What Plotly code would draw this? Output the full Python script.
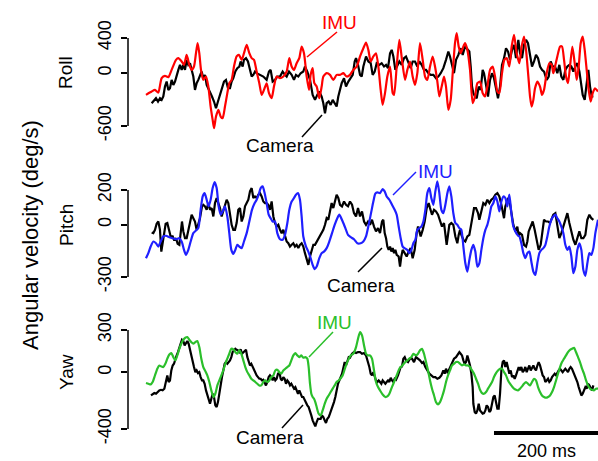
import plotly.graph_objects as go

# ---------------- data (time in ms, angular velocity in deg/s) ----------------
roll_imu_t = [0.0,10.9,17.3,23.7,30.1,36.5,43.0,49.3,57.7,62.2,68.6,73.1,78.2,83.3,87.8,92.3,96.1,99.3,102.5,105.8,
 110.2,115.4,119.9,124.3,128.2,130.8,134.6,139.1,143.6,147.4,151.9,156.4,160.2,164.7,169.2,174.3,178.8,184.0,188.4,193.6,
 198.7,203.2,207.7,212.8,217.9,222.4,226.9,232.0,236.5,241.6,246.1,251.3,257.7,264.1,270.5,275.6,280.1,284.6,289.7,294.8,
 299.3,303.8,309.0,313.4,316.6,320.5,323.7,328.2,333.3,337.8,341.0,347.4,353.8,360.2,366.6,373.1,
 379.5,385.9,392.3,398.7,405.2,411.6,418.0,423.1,427.6,432.1,437.2,442.3,446.8,451.3,455.1,459.6,464.1,469.3,474.4,477.0,
 482.1,487.2,492.3,498.1,502.6,507.7,512.8,517.3,521.8,526.9,532.1,536.6,541.0,546.2,551.3,555.8,560.3,564.1,568.6,573.1,
 576.9,581.4,585.9,589.8,594.2,597.4,601.3,605.1,609.0,613.5,618.0,623.1,628.2,632.7,637.2,642.3,647.4,651.9,656.4,661.6,
 666.7,671.2,675.7,679.5,684.6,689.1,693.6,698.7,703.2,707.7,712.8,718.0,722.4,726.9,730.8,735.3,738.5,741.7,744.9,748.1,
 752.6,757.7,761.5,765.4,770.5,775.6,780.1,783.3,786.6,791.0,796.2,800.0,803.9,807.7,811.5,815.4,819.9,824.4,828.2,832.1,
 835.9,839.8,843.6,847.4,851.3,855.1,859.0,863.5,869.2]
roll_imu_v = [-246,-208,-190,-220,-57,-30,-45,38,152,171,133,95,208,95,38,76,227,341,227,38,
 -76,-38,-152,-379,-531,-625,-493,-417,-493,-512,-379,-227,-114,-76,76,190,208,152,227,322,
 227,171,152,19,-114,-246,-190,-114,-227,-284,-152,-38,-57,-38,19,171,76,38,114,171,
 303,227,-38,-190,-19,57,-114,-152,-284,-152,-38,0,-19,-76,-19,-19,
 0,-38,-19,38,76,190,284,349,265,133,190,227,76,-190,-360,-227,-38,76,-227,-246,
 76,379,152,-76,38,133,-38,-133,0,341,152,-38,-76,76,190,76,-95,-265,-152,-38,
 -152,-417,-303,0,341,455,303,227,284,341,265,38,-341,-265,-114,-95,-227,-265,-152,38,
 76,-38,-208,-227,0,152,171,76,303,436,227,114,303,417,265,-38,-265,-379,-303,-171,
 -95,-152,-246,-190,0,114,95,0,76,190,303,303,152,-38,-114,76,303,114,-76,76,
 341,417,265,38,-190,-322,-227,-171,-208]

roll_cam_t = [10.9,15.4,19.2,23.1,26.9,30.1,33.3,36.5,39.7,43.0,46.1,49.3,52.6,55.8,59.0,62.2,65.4,68.6,71.8,75.0,
 78.2,81.4,84.6,87.8,91.0,94.2,97.4,100.6,103.8,107.0,110.2,113.4,116.7,119.9,123.1,126.9,130.8,134.6,138.4,142.3,
 146.1,150.0,153.8,157.7,161.5,164.7,167.9,171.8,175.6,179.5,182.0,185.9,188.4,192.3,196.1,200.0,203.2,206.4,209.6,212.8,
 219.2,225.6,232.0,236.5,239.7,243.6,248.1,252.5,257.7,262.8,267.3,270.5,275.0,280.1,284.6,288.4,292.9,297.4,302.5,305.7,
 310.2,315.4,320.5,325.0,329.5,333.3,337.8,341.0,344.2,347.4,351.3,355.1,359.0,363.4,366.6,369.8,
 376.3,380.8,384.6,389.1,393.6,397.5,401.3,403.9,407.7,411.6,414.8,418.0,423.1,427.6,432.1,435.9,439.8,443.6,448.7,453.2,
 457.7,461.6,465.4,469.3,472.5,475.7,479.5,483.4,487.2,491.7,496.2,500.0,504.5,509.0,512.8,517.3,521.8,525.7,530.1,534.6,
 538.5,543.0,547.5,552.6,557.7,562.2,566.7,571.8,576.9,581.4,584.6,588.5,592.3,596.2,600.7,605.1,609.0,613.5,618.0,621.8,
 624.4,626.9,629.5,632.7,635.9,639.8,643.6,647.4,650.0,653.9,657.7,661.6,665.4,669.2,673.1,676.9,680.8,684.6,688.5,692.3,
 696.2,700.0,703.9,707.7,711.5,716.0,719.2,723.1,726.9,730.8,734.6,738.5,742.3,746.2,750.0,753.9,757.7,761.5,765.4,770.5,
 774.4,778.2,782.1,786.6,791.0,794.9,798.7,802.6,806.4,810.3,814.1,818.0,821.8,825.7,829.5,833.4,835.9,839.8,843.6,847.4,
 850.6,853.9,857.1,860.3]
roll_cam_v = [-341,-303,-284,-322,-284,-303,-265,-152,-95,-190,-171,-76,-133,-95,-19,38,95,38,95,38,
 152,95,114,38,-38,-190,-114,-76,-19,19,-57,-19,-133,-171,-208,-265,-322,-398,-322,-246,
 -171,-95,-76,-171,-171,-95,-57,19,57,76,133,76,152,171,133,19,-38,-19,19,0,
 -19,-38,-76,19,38,-95,-76,-38,-38,19,-19,-38,19,-19,-76,-19,-38,0,19,76,
 19,-76,-246,-303,-246,-208,-265,-341,-455,-341,-322,-360,-303,-341,-379,-265,
 -114,-57,-152,-95,-57,-19,133,171,95,-19,-38,76,190,133,114,-19,19,114,95,114,
 76,95,57,227,265,190,38,95,133,95,171,190,133,57,133,133,76,133,95,38,
 38,0,-19,-19,-57,-38,0,57,152,246,190,76,0,152,208,284,208,303,265,246,
 76,-152,-227,-265,-284,-152,-190,38,0,-152,-265,-76,0,-57,-190,-284,-152,95,171,284,
 246,152,265,322,171,379,227,171,322,379,341,227,76,133,208,171,76,38,19,-76,
 -38,133,76,76,0,95,-38,-76,38,76,95,76,19,76,114,19,-114,-246,-303,-114,
 38,-152,-265,-265]

pitch_imu_t = [0.0,4.5,9.0,14.1,19.2,23.7,28.2,33.3,38.5,44.9,51.3,57.7,64.1,68.6,73.1,76.9,81.4,85.9,91.0,96.1,
 100.6,105.1,109.0,112.8,116.7,120.5,124.3,128.2,132.0,135.9,139.7,143.6,147.4,151.9,156.4,160.2,164.1,167.9,171.8,175.6,
 179.5,184.0,188.4,193.6,198.7,203.8,209.0,212.8,216.6,220.5,224.3,228.2,232.0,235.9,239.7,243.6,248.1,252.5,257.7,262.8,
 267.3,271.8,275.6,280.1,284.6,288.4,292.3,296.1,299.3,302.5,307.7,312.2,316.6,320.5,324.3,328.2,333.3,337.8,342.3,347.4,
 352.5,357.7,362.8,367.9,371.8,
 378.2,383.4,388.5,393.6,400.0,406.4,412.8,418.0,423.1,428.2,433.4,437.2,441.0,444.9,450.0,455.1,459.0,462.8,468.0,473.1,
 478.2,482.1,485.9,489.8,493.6,498.1,502.6,506.4,510.3,514.1,518.0,521.8,525.7,529.5,533.4,537.2,541.0,544.9,548.7,552.6,
 556.4,560.3,564.1,568.0,571.8,575.7,579.5,583.3,587.2,591.0,594.9,598.7,602.6,606.4,610.3,614.1,618.0,621.8,625.7,629.5,
 633.3,637.2,641.0,644.9,648.7,652.6,656.4,660.3,664.1,668.0,671.8,675.7,679.5,683.4,687.2,691.0,694.9,698.7,702.6,706.4,
 710.3,714.1,718.0,721.8,725.7,729.5,733.3,737.2,741.0,744.9,748.7,752.6,756.4,760.3,764.1,768.0,771.8,775.6,779.5,783.3,
 787.2,791.0,794.9,798.7,802.6,806.4,810.3,814.1,818.0,821.8,825.7,829.5,833.4,837.2,841.0,844.9,848.7,852.6,856.4,860.3,
 864.1,869.2]
pitch_imu_v = [-192,-163,-125,-96,-106,-125,-96,-67,-63,-71,-77,-83,-77,-96,-144,-173,-144,-96,-48,-33,
 -19,86,163,182,144,106,144,211,246,211,106,58,77,106,48,-48,-144,-167,-144,-115,
 -125,-134,-96,-48,19,86,125,144,173,211,221,182,125,58,38,19,19,-48,-83,-86,
 -58,10,86,134,154,173,182,144,48,-67,-125,-154,-192,-230,-255,-240,-192,-163,-154,-134,
 -96,-48,0,38,58,
 19,-19,-58,-71,-83,-106,-106,-96,-67,0,77,134,179,186,182,205,192,163,144,115,
 86,58,-10,-77,-125,-136,-144,-163,-144,-106,-86,-29,-19,-10,19,86,182,211,154,115,
 192,250,182,86,67,115,182,221,163,67,10,0,-19,-29,-125,-221,-269,-202,-144,-115,
 -154,-240,-221,-144,-77,-29,0,48,106,125,163,134,77,134,163,154,106,173,67,-10,
 -38,-58,-67,-106,-163,-192,-163,-154,-211,-269,-288,-221,-163,-144,-134,-115,-67,-10,29,48,
 58,38,19,-10,-48,-115,-144,-125,-182,-278,-240,-144,-106,-144,-259,-293,-221,-163,-173,-134,
 -48,29]

pitch_cam_t = [10.9,14.1,17.3,20.5,23.7,26.9,29.5,32.0,34.6,37.8,41.0,44.2,47.4,51.3,54.5,57.7,60.9,64.1,66.7,69.2,
 71.8,75.0,78.2,81.4,84.6,87.8,91.0,94.2,97.4,100.6,103.8,107.7,110.2,113.4,116.7,119.9,123.1,126.3,129.5,132.7,
 135.9,139.1,142.3,145.5,148.7,151.9,155.1,158.3,161.5,164.7,167.9,171.1,174.3,177.5,180.8,184.0,187.2,190.4,193.6,196.8,
 200.0,203.2,206.4,209.6,212.8,216.0,219.2,222.4,225.6,228.8,232.0,235.2,238.4,241.6,244.9,248.1,251.3,254.5,257.7,260.9,
 264.1,267.3,270.5,273.7,276.9,280.1,283.3,286.5,289.7,292.9,296.1,299.3,302.5,305.7,309.0,312.2,315.4,318.6,321.8,325.0,
 328.2,331.4,334.6,337.8,341.0,344.2,347.4,350.6,353.8,357.0,360.2,363.4,366.6,369.8,
 373.1,376.9,380.8,384.6,388.5,392.3,396.2,400.0,403.9,407.7,411.6,415.4,419.3,423.1,427.0,430.8,434.6,438.5,442.3,446.2,
 450.0,453.9,456.4,459.0,461.6,464.1,466.7,469.3,471.8,474.4,477.0,479.5,482.1,485.9,488.5,491.0,493.6,497.5,501.3,505.2,
 509.0,512.8,516.7,520.5,523.1,525.7,528.2,532.1,535.9,539.8,543.6,546.2,550.0,553.9,557.7,561.6,565.4,569.2,573.1,575.7,
 578.2,580.8,583.3,587.2,591.0,594.9,598.7,601.3,603.9,606.4,610.3,614.1,618.0,621.8,625.7,628.2,630.8,634.6,638.5,641.0,
 644.9,648.7,652.6,656.4,660.3,664.1,668.0,671.8,675.7,679.5,683.4,685.9,688.5,691.0,693.6,696.2,698.7,701.3,703.9,706.4,
 710.3,714.1,716.7,719.2,723.1,726.9,730.8,733.3,735.9,739.7,743.6,747.4,751.3,755.1,759.0,762.8,765.4,769.2,773.1,776.9,
 779.5,783.3,787.2,791.0,794.9,798.7,802.6,806.4,810.3,814.1,818.0,821.8,825.7,829.5,833.4,837.2,841.0,844.9,848.7,852.6,
 856.4,860.3]
pitch_cam_v = [-44,-48,-29,6,19,-29,-154,-106,-38,6,10,-29,-67,-67,-90,-77,-109,-115,-58,19,
 -38,-77,-77,-29,29,58,38,19,-29,0,38,106,115,106,86,125,86,96,48,125,
 154,125,96,48,77,106,144,125,48,0,-29,-29,10,86,96,19,48,106,125,144,
 192,211,154,163,154,173,182,163,134,125,125,115,86,134,48,10,-10,0,-29,-48,
 -29,-58,-96,-106,-125,-115,-106,-125,-115,-134,-115,-106,-125,-163,-192,-230,-182,-144,-115,-115,
 -96,-77,-67,-48,-29,0,38,29,86,125,96,144,173,154,
 115,106,134,115,106,134,115,67,48,96,48,77,19,0,19,0,29,-10,-38,-19,
 -48,19,29,-48,-77,-125,-144,-125,-154,-134,-163,-144,-173,-182,-240,-182,-144,-163,-182,-154,
 -134,-192,-144,-48,-10,-38,-67,-29,19,96,125,96,58,86,77,58,19,-10,10,-48,
 -115,-58,0,10,0,-67,-106,-58,-29,-58,-86,-96,-67,-58,0,48,96,96,67,29,
 86,125,115,144,125,144,154,173,182,163,115,67,38,106,125,154,144,96,48,0,
 -38,-10,-67,-48,-58,-115,-125,-96,-38,-10,19,-29,-86,-144,-115,-38,29,19,19,10,
 29,58,67,-10,-77,-48,-10,38,67,10,-48,-86,-115,-77,-38,-77,-77,-58,29,58,
 38,29]

yaw_imu_t = [0.0,4.5,9.0,12.8,17.3,21.8,25.6,29.5,33.3,37.2,41.0,44.9,48.7,52.6,56.4,60.2,64.1,67.9,71.8,75.6,
 79.5,83.3,87.2,91.0,94.9,98.7,102.5,106.4,110.2,114.1,117.9,121.8,125.6,129.5,133.3,137.2,141.0,144.9,148.7,152.5,
 156.4,160.2,164.1,167.9,171.8,175.6,179.5,183.3,187.2,191.0,194.9,198.7,202.5,206.4,210.2,214.1,217.9,221.8,225.6,229.5,
 233.3,237.2,241.0,244.9,248.7,252.5,256.4,260.2,264.1,267.9,271.8,275.6,279.5,283.3,287.2,291.0,294.8,298.7,302.5,306.4,
 310.2,312.8,315.4,317.9,320.5,323.1,325.6,328.2,332.0,335.9,339.7,343.6,347.4,351.3,355.1,359.0,362.8,366.6,370.5,
 378.2,383.4,388.5,393.6,398.7,403.9,407.7,411.6,415.4,419.3,423.1,427.0,430.8,434.6,438.5,442.3,446.2,450.0,455.1,460.3,
 464.1,468.0,471.8,475.7,479.5,483.4,487.2,491.0,494.9,498.7,502.6,506.4,510.3,514.1,519.3,523.1,526.9,530.8,534.6,538.5,
 542.3,546.2,550.0,553.9,557.7,561.6,565.4,569.2,573.1,576.9,580.8,584.6,588.5,592.3,596.2,600.0,603.9,607.7,611.6,615.4,
 619.2,623.1,626.9,630.8,634.6,638.5,642.3,646.2,650.0,653.9,657.7,661.6,665.4,669.2,673.1,676.9,680.8,684.6,688.5,692.3,
 696.2,700.0,703.9,707.7,711.5,715.4,719.2,723.1,726.9,730.8,734.6,738.5,742.3,746.2,750.0,753.9,757.7,761.5,765.4,769.2,
 773.1,776.9,780.8,784.6,788.5,792.3,796.2,800.0,803.9,807.7,811.5,815.4,819.2,823.1,826.9,830.8,834.6,838.5,842.3,846.2,
 850.0,853.9,857.7,861.5,865.4,869.2]
yaw_imu_v = [-75,-80,-85,-68,-21,26,49,42,38,61,97,127,137,108,85,120,167,203,231,245,
 250,231,214,203,214,222,179,97,38,9,-21,-68,-127,-174,-151,-92,-57,-21,14,61,
 97,132,167,163,144,132,156,132,85,38,2,-21,-45,-57,-68,-80,-92,-92,-68,-57,
 -68,-57,-33,-21,14,19,2,-9,14,26,38,49,85,120,137,120,108,120,104,108,
 97,38,-80,-151,-174,-186,-210,-245,-292,-304,-269,-222,-186,-163,-139,-115,-92,-68,-57,
 -21,38,85,120,132,179,238,285,262,191,132,120,120,97,14,-68,-104,-127,-156,-174,
 -170,-151,-115,-80,-45,-9,26,42,57,73,85,97,108,132,120,132,156,167,132,73,
 14,-57,-115,-163,-210,-226,-210,-174,-127,-68,-21,14,49,61,73,73,61,49,57,49,
 49,38,14,-9,-45,-80,-123,-146,-151,-139,-115,-92,-68,-33,-5,14,26,26,2,-21,
 -57,-80,-99,-115,-123,-127,-115,-99,-80,-68,-80,-92,-68,-45,-57,-104,-139,-163,-174,-179,
 -174,-163,-139,-104,-57,-9,38,73,97,120,144,160,167,174,144,108,73,26,-9,-57,
 -92,-115,-123,-127,-115,-115]

yaw_cam_t = [9.6,12.8,16.0,19.2,22.4,25.6,28.8,32.0,35.3,38.5,41.0,43.6,46.1,48.7,51.3,53.8,56.4,59.0,61.5,64.1,
 66.7,69.2,71.8,74.3,76.9,79.5,82.0,84.6,87.2,89.7,92.3,94.9,97.4,100.0,102.5,105.1,107.7,110.2,112.8,115.4,
 117.9,120.5,123.1,125.6,128.2,130.8,133.3,135.9,138.4,141.0,143.6,146.1,148.7,151.3,153.8,156.4,159.0,161.5,164.1,166.6,
 169.2,171.8,174.3,176.9,179.5,182.0,184.6,187.2,189.7,192.3,194.9,197.4,200.0,202.5,205.1,207.7,210.2,212.8,215.4,217.9,
 220.5,223.1,225.6,228.2,230.7,233.3,235.9,238.4,241.0,243.6,246.1,248.7,251.3,253.8,256.4,259.0,261.5,264.1,266.6,269.2,
 271.8,274.3,276.9,279.5,282.0,284.6,287.2,289.7,292.3,294.8,297.4,300.0,302.5,305.1,307.7,310.2,312.8,315.4,317.9,320.5,
 323.1,325.6,328.2,330.7,333.3,335.9,338.4,341.0,343.6,346.1,348.7,351.3,353.8,356.4,359.0,361.5,364.1,366.6,369.2,
 377.0,379.5,382.1,384.6,387.2,389.8,392.3,396.2,400.0,403.9,407.7,411.6,415.4,419.3,423.1,427.0,429.5,432.1,434.6,437.2,
 439.8,442.3,444.9,447.5,450.0,452.6,455.1,457.7,460.3,462.8,465.4,468.0,470.5,473.1,475.7,478.2,480.8,484.6,487.2,489.8,
 492.3,494.9,497.5,500.0,503.9,507.7,511.6,515.4,519.2,523.1,526.9,530.8,533.4,537.2,541.0,544.9,548.7,552.6,556.4,560.3,
 564.1,568.0,571.8,574.4,576.9,579.5,582.1,584.6,588.5,592.3,596.2,600.0,602.6,605.1,607.7,610.3,612.8,615.4,618.0,620.5,
 623.1,625.7,628.2,629.5,632.1,634.6,637.2,639.8,642.3,644.9,647.4,650.0,652.6,655.1,657.7,660.3,662.8,665.4,668.0,670.5,
 673.1,675.7,678.2,680.8,683.4,685.9,688.5,691.0,693.6,696.2,698.7,701.3,703.9,706.4,709.0,711.5,714.1,716.7,719.2,721.8,
 724.4,726.9,729.5,732.1,734.6,737.2,739.8,742.3,744.9,747.4,750.0,752.6,755.1,757.7,760.3,762.8,765.4,767.9,770.5,773.1,
 775.6,778.2,780.8,783.3,785.9,788.5,791.0,793.6,796.2,798.7,801.3,803.9,806.4,809.0,811.5,814.1,816.6,819.2,821.8,824.4,
 826.9,829.5,832.1,834.6,837.2,839.8,842.3,844.9,847.4,850.0,852.6,855.1,857.7,860.3]
yaw_cam_v = [-163,-156,-146,-151,-139,-127,-123,-127,-115,-57,-21,-68,-57,14,49,61,97,120,144,167,
 203,231,222,191,203,222,203,156,108,85,38,2,14,-5,2,-33,-57,-57,-80,-127,
 -163,-198,-222,-186,-151,-174,-233,-245,-210,-151,-80,-33,14,61,73,61,73,85,108,144,
 156,167,160,156,144,163,132,144,156,160,108,85,49,61,38,14,-9,-21,-33,-45,
 -45,-57,-52,-68,-92,-68,-33,-21,-33,-57,-33,-57,-45,-9,2,-45,-57,-33,-45,-80,
 -57,-68,-92,-80,-104,-115,-104,-127,-151,-127,-151,-174,-174,-198,-222,-233,-245,-269,-304,-339,
 -368,-382,-351,-328,-328,-328,-304,-316,-339,-358,-328,-316,-292,-269,-245,-210,-174,-127,-80,
 -9,38,73,49,85,108,104,132,144,137,144,144,132,137,120,73,38,-9,-21,2,
 -33,-57,-68,-57,-68,-80,-57,-68,-80,-68,-57,-68,-38,-57,-68,-45,-52,-21,14,38,
 42,97,108,85,73,97,97,73,108,97,85,66,73,38,14,-9,-21,-33,-33,-45,
 -38,-21,14,-9,26,2,14,38,61,97,108,132,144,132,120,85,61,73,120,85,
 49,-9,-104,-222,-280,-292,-269,-222,-269,-280,-292,-288,-269,-233,-245,-280,-269,-222,-174,-163,
 -210,-257,-257,-151,14,73,85,38,73,38,-9,14,-33,-21,-45,-21,14,38,14,38,
 2,14,38,2,26,49,14,38,49,26,14,49,73,49,14,-21,-33,-68,-57,-45,
 -68,-57,-33,-21,-9,-21,2,14,26,14,2,14,26,14,2,26,38,26,2,-9,
 -45,-68,-104,-139,-163,-151,-127,-104,-115,-80,-92,-115,-127,-92]

panel_names = ["Roll", "Pitch", "Yaw"]
imu_colors = ["#ff0000", "#1f1fff", "#2bbf2b"]
tick_vals = [[-600, 0, 400], [-300, 0, 200], [-400, 0, 300]]
scale_bar_ms = 200
scale_bar_start = 669.2

# ---------------- layout helpers ----------------
W, H = 598, 461
FONT = "Liberation Sans, Arial, Helvetica, sans-serif"


def px(x):
    return x / W


def py(y):
    return 1 - y / H


X_RANGE = [-34.6, 869.2]
X_DOMAIN = [px(128), 1.0]
# (domain top px, domain bottom px, y-range)
panels = [
    (25, 135, [-702.3, 547.7]),
    (165, 292, [-386.2, 343.7]),
    (315, 440, [-478.0, 405.9]),
]

series = [
    (roll_cam_t, roll_cam_v, roll_imu_t, roll_imu_v),
    (pitch_cam_t, pitch_cam_v, pitch_imu_t, pitch_imu_v),
    (yaw_cam_t, yaw_cam_v, yaw_imu_t, yaw_imu_v),
]

fig = go.Figure()
for i, (ct, cv, it, iv) in enumerate(series):
    xa = "x" if i == 0 else f"x{i+1}"
    ya = "y" if i == 0 else f"y{i+1}"
    fig.add_trace(go.Scatter(x=ct, y=cv, mode="lines", xaxis=xa, yaxis=ya,
                             line=dict(color="black", width=2.2), name="Camera",
                             showlegend=False))
    fig.add_trace(go.Scatter(x=it, y=iv, mode="lines", xaxis=xa, yaxis=ya,
                             line=dict(color=imu_colors[i], width=2.2, shape="spline", smoothing=0.6),
                             name="IMU", showlegend=False))

layout = dict(
    width=W, height=H,
    margin=dict(l=0, r=0, t=0, b=0, autoexpand=False),
    paper_bgcolor="white", plot_bgcolor="white",
    font=dict(family=FONT, color="black"),
    showlegend=False,
)
for i, (top, bot, yr) in enumerate(panels):
    sfx = "" if i == 0 else str(i + 1)
    layout["xaxis" + sfx] = dict(domain=X_DOMAIN, range=X_RANGE, visible=False,
                                 anchor="y" + sfx, fixedrange=True, automargin=False)
    layout["yaxis" + sfx] = dict(domain=[py(bot), py(top)], range=yr, anchor="x" + sfx,
                                 showgrid=False, zeroline=False, showline=False,
                                 ticks="outside", ticklen=6, tickwidth=1.5, tickcolor="black",
                                 tickvals=tick_vals[i], ticktext=[str(v) for v in tick_vals[i]],
                                 tickangle=-90, tickfont=dict(size=18, family=FONT, color="black"),
                                 ticklabelstandoff=3, fixedrange=True, automargin=False)
fig.update_layout(**layout)

shapes = []
# axis spines between the outer ticks
for i in range(3):
    ya = "y" if i == 0 else f"y{i+1}"
    shapes.append(dict(type="line", xref="paper", yref=ya, x0=px(128), x1=px(128),
                       y0=tick_vals[i][0], y1=tick_vals[i][-1],
                       line=dict(color="black", width=1.5)))
# scale bar
shapes.append(dict(type="line", xref="x3", yref="paper", x0=scale_bar_start,
                   x1=scale_bar_start + scale_bar_ms, y0=py(433), y1=py(433),
                   line=dict(color="black", width=4)))
# pointer lines for labels
pointers = [
    ((307, 57), (337, 32), imu_colors[0]),
    ((322, 115), (302, 137), "black"),
    ((393, 195), (416, 172), imu_colors[1]),
    ((382, 248), (358, 272), "black"),
    ((309, 357), (333, 332), imu_colors[2]),
    ((303, 405), (282, 428), "black"),
]
for (x0, y0), (x1, y1), c in pointers:
    shapes.append(dict(type="line", xref="paper", yref="paper", x0=px(x0), y0=py(y0),
                       x1=px(x1), y1=py(y1), line=dict(color=c, width=1.5)))
fig.update_layout(shapes=shapes)

ann = []
labels = [
    ("IMU", 339, 22, imu_colors[0]),
    ("Camera", 280, 146, "black"),
    ("IMU", 435.5, 171, imu_colors[1]),
    ("Camera", 361, 285, "black"),
    ("IMU", 334.5, 322, imu_colors[2]),
    ("Camera", 270, 437, "black"),
]
for txt, x, y, c in labels:
    ann.append(dict(text=txt, x=px(x), y=py(y), xref="paper", yref="paper", showarrow=False,
                    xanchor="center", yanchor="middle", font=dict(size=19, color=c, family=FONT)))
for name, yc in zip(panel_names, [73, 225, 372]):
    ann.append(dict(text=name, x=px(66), y=py(yc), xref="paper", yref="paper", showarrow=False,
                    textangle=-90, xanchor="center", yanchor="middle",
                    font=dict(size=19, color="black", family=FONT)))
ann.append(dict(text="Angular velocity (deg/s)", x=px(30), y=py(235), xref="paper", yref="paper",
                showarrow=False, textangle=-90, xanchor="center", yanchor="middle",
                font=dict(size=22, color="black", family=FONT)))
ann.append(dict(text=f"{scale_bar_ms} ms", x=scale_bar_start + scale_bar_ms / 2, y=py(451),
                xref="x3", yref="paper", showarrow=False, xanchor="center", yanchor="middle",
                font=dict(size=18, color="black", family=FONT)))
fig.update_layout(annotations=ann)

fig.write_html("out.html", config={"displayModeBar": False},
               post_script="document.body.style.margin='0';document.body.style.padding='0';")
